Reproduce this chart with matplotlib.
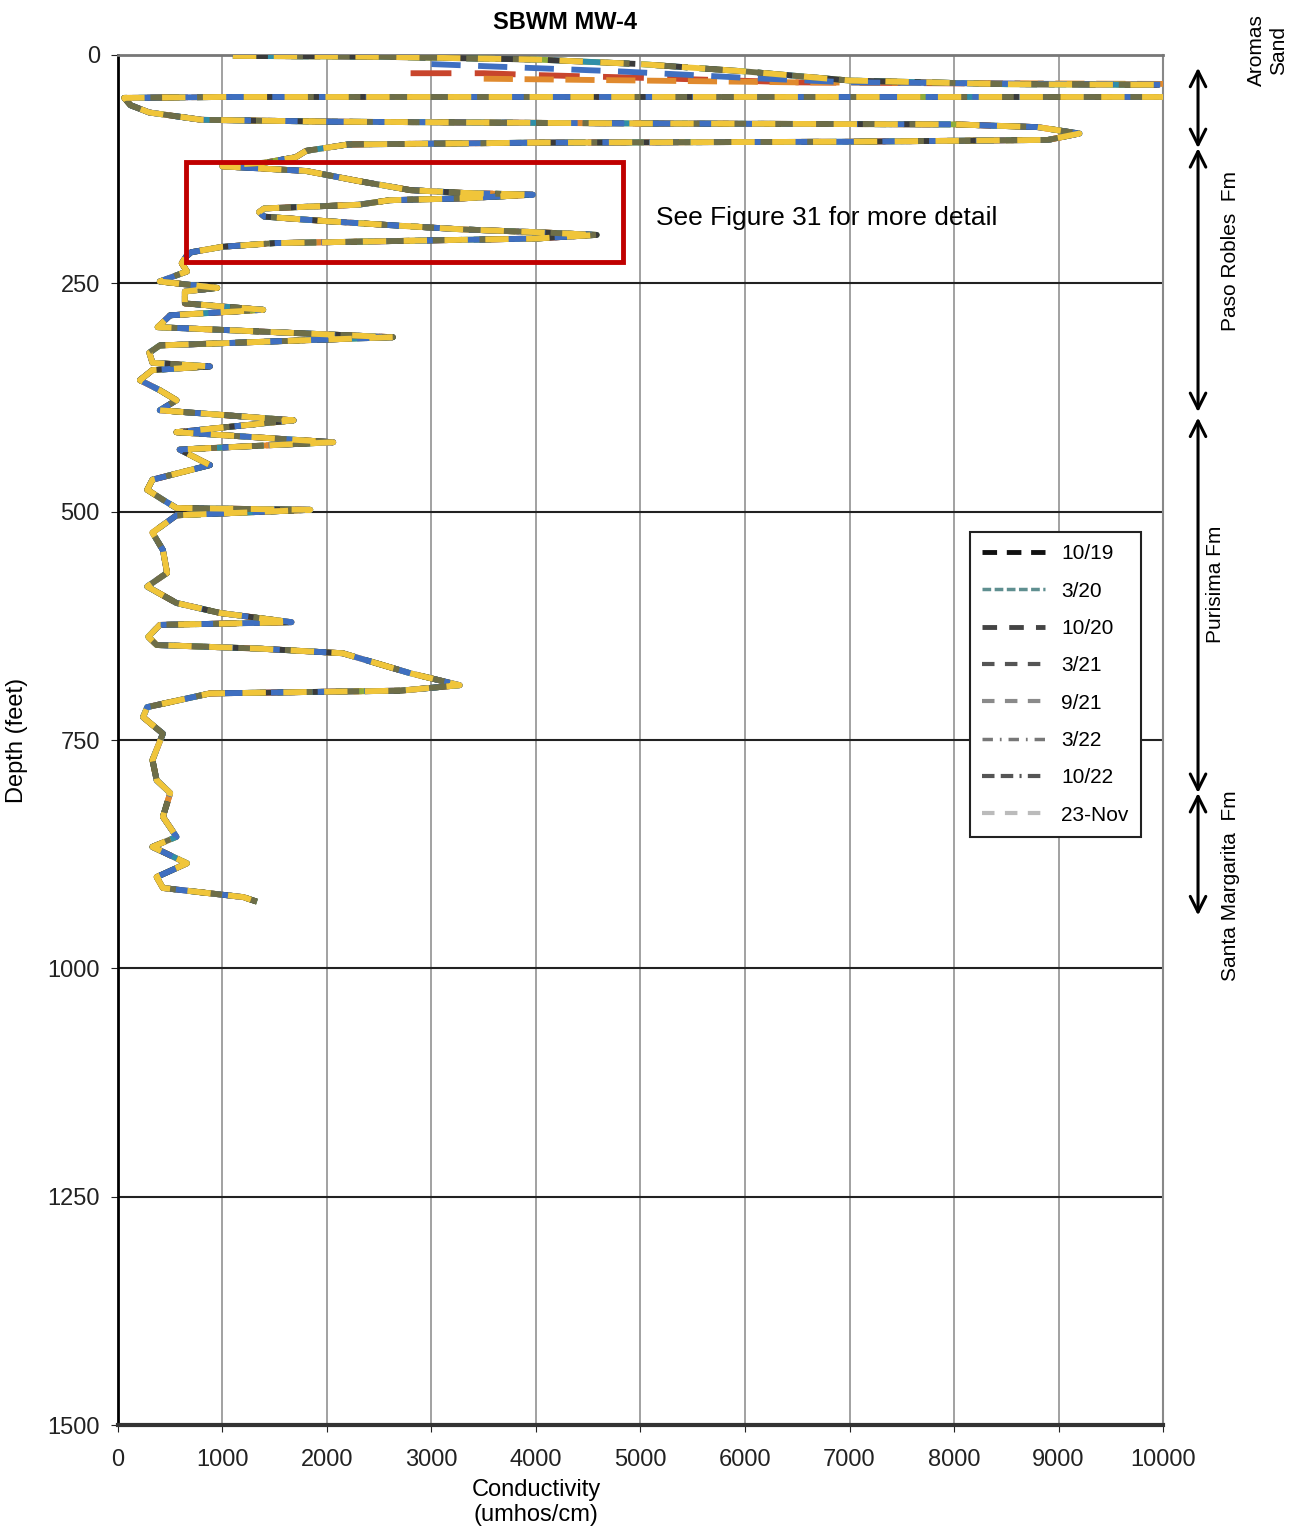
import matplotlib.pyplot as plt
from matplotlib.lines import Line2D
from matplotlib.patches import Rectangle

# series names and colours of the traces
series = ["10/19", "3/20", "10/20", "3/21", "9/21", "3/22", "10/22", "23-Nov"]
colors = ["#3a3a3a", "#2f8fa8", "#c8452c", "#3f6fc0", "#6e6e48", "#8fae3a", "#e08a2e", "#f0c53a"]
dashes = [(6, 3), (3, 2), (7, 4), (5, 3), (4, 4), (5, 2, 1, 2), (5, 2), (4, 3)]
layer = [3.4, 3.3, 3.0, 3.5, 3.6, 3.2, 3.1, 3.7]

# top of the log (0-35 ft), where the surveys differ a little
top_cond = [1100, 2500, 4000, 5000, 6000, 7000, 8500, 10600]
top_depth = [1, 2, 5, 10, 18, 28, 32, 33]
top_cond_1020 = [2800, 3500, 4000, 5000, 6500, 10600]
top_depth_1020 = [20, 20, 22, 25, 30, 33]
top_cond_321 = [3000, 4800, 5500, 6000, 7000, 10600]
top_depth_321 = [10, 18, 22, 25, 30, 33]
top_cond_1022 = [3500, 5000, 6500, 10600]
top_depth_1022 = [26, 28, 30, 32]

# rest of the profile (all surveys overlap)
body_cond = [10600, 10500, 5000, 1000, 60, 120, 300, 800, 2000, 5000, 8000, 8800, 9200,
             8900, 7000, 4000, 2200, 1800, 1700, 1400, 1000,
             1000, 1800, 2300, 2800, 3300, 3970, 3300, 2600, 2300, 1400, 1350, 1400, 2000,
             2700, 3300, 4000, 4580, 4000, 3000, 1500, 1000, 700, 650, 610, 660, 400, 950,
             640, 640, 1390, 500, 380, 2630, 400, 300, 330, 880, 330, 210, 400, 560, 400,
             1680, 560, 2060, 590, 880, 330, 280, 430, 560, 1840, 560, 330, 430, 470, 280,
             560, 980, 1660, 400, 290, 370, 1360, 2150, 2800, 3270, 2700, 880, 280, 240,
             430, 330, 370, 500, 430, 560, 330, 660, 370, 430, 1200, 1330]
body_depth = [40, 46, 46, 46, 47, 55, 63, 71, 73, 75, 76, 79, 86,
              93, 95, 96, 98, 105, 112, 118, 121,
              122, 127, 138, 148, 151, 153, 157, 159, 164, 168, 172, 177, 182,
              187, 191, 194, 197, 201, 203, 206, 210, 216, 221, 228, 237, 248, 255,
              259, 272, 279, 285, 298, 309, 318, 326, 337, 341, 345, 356, 367, 378, 389,
              400, 413, 424, 432, 449, 465, 476, 487, 496, 498, 504, 523, 542, 567, 582,
              600, 611, 621, 624, 637, 646, 650, 655, 677, 690, 696, 699, 714, 725,
              743, 772, 794, 808, 834, 856, 867, 885, 900, 912, 922, 927]

# formation intervals (depth ft) shown on the right
formations = ["Aromas\nSand", "Paso Robles  Fm", "Purisima Fm", "Santa Margarita  Fm"]
form_top = [14, 102, 397, 808]
form_bot = [102, 391, 808, 942]
form_label_depth = [-5, 215, 580, 910]

narrow = ["Liberation Sans Narrow", "Liberation Sans", "DejaVu Sans"]
plt.rcParams['font.family'] = ["Liberation Sans", "DejaVu Sans"]

fig = plt.figure(figsize=(13.05, 15.31), dpi=100)
ax = fig.add_axes([0.0904, 0.0692, 0.8008, 0.8949])

tops = {"10/20": (top_cond_1020, top_depth_1020),
        "3/21": (top_cond_321, top_depth_321),
        "10/22": (top_cond_1022, top_depth_1022)}
for i, name in enumerate(series):
    tc, td = tops.get(name, (top_cond, top_depth))
    ax.plot(tc + body_cond, td + body_depth, color=colors[i], lw=4.2,
            dashes=dashes[i], solid_capstyle='butt', zorder=layer[i])

ax.set_xlim(0, 10000)
ax.set_ylim(1500, 0)
ax.set_xticks(range(0, 10001, 1000))
ax.set_yticks(range(0, 1501, 250))
ax.tick_params(labelsize=17, length=5, colors="#222222")
ax.tick_params(axis='x', pad=12)
ax.tick_params(axis='y', pad=8)
for x in range(1000, 10000, 1000):
    ax.axvline(x, color="#9a9a9a", lw=1.3, zorder=1)
for y in range(250, 1500, 250):
    ax.axhline(y, color="#222222", lw=1.5, zorder=1)
ax.spines['left'].set_linewidth(2)
ax.spines['bottom'].set_linewidth(3)
ax.spines['bottom'].set_color("#333333")
ax.spines['top'].set_color("#777777")
ax.spines['top'].set_linewidth(2)
ax.spines['right'].set_color("#888888")
ax.spines['right'].set_linewidth(1.5)

ax.set_title("SBWM MW-4", fontsize=17, fontweight='bold', x=0.428, pad=19)
ax.set_xlabel("Conductivity\n(umhos/cm)", fontsize=17, x=0.4, labelpad=6)
ax.set_ylabel("Depth (feet)", fontsize=17, labelpad=14)

# callout box
ax.add_patch(Rectangle((650, 117), 4180, 110, fill=False, ec="#c00000", lw=3.5, zorder=6))
ax.text(5150, 178, "See Figure 31 for more detail", fontsize=19, family=narrow, va='center')

# legend with greyscale swatches
leg_styles = [("#111111", (3, 2), 3.5), ("#5f8f90", (2.5, 1), 2.5), ("#444444", (3, 2.5), 3.5),
              ("#555555", (3, 2.5), 3), ("#8a8a8a", (3, 2.5), 3), ("#777777", (3, 2, 0.5, 2), 2.5),
              ("#555555", (3, 1.5, 3, 1.5, 0.5, 1.5), 3), ("#bbbbbb", (3, 2.5), 3)]
handles = [Line2D([], [], color=c, dashes=d, lw=w) for c, d, w in leg_styles]
leg = ax.legend(handles, series, loc='upper left', bbox_to_anchor=(0.815, 0.652),
                fontsize=15, handlelength=3.0, labelspacing=0.88, fancybox=False,
                framealpha=1, edgecolor="#222222", borderpad=0.6, borderaxespad=0)
leg.get_frame().set_linewidth(1.5)
leg.set_zorder(10)

# formation arrows
xa = 10335
for name, t, b, ld in zip(formations, form_top, form_bot, form_label_depth):
    ax.annotate("", xy=(xa, t), xytext=(xa, b), annotation_clip=False,
                arrowprops=dict(arrowstyle='<->', lw=2.2, color="black",
                                mutation_scale=28, shrinkA=0, shrinkB=0))
    xl = 11000 if name.startswith("Aromas") else 10650
    if name.startswith("Purisima"):
        xl = 10500
    ax.text(xl, ld, name, rotation=90, fontsize=15, family=narrow, ha='center',
            va='center', clip_on=False, multialignment='center')

fig.savefig("out.png", dpi=100)
